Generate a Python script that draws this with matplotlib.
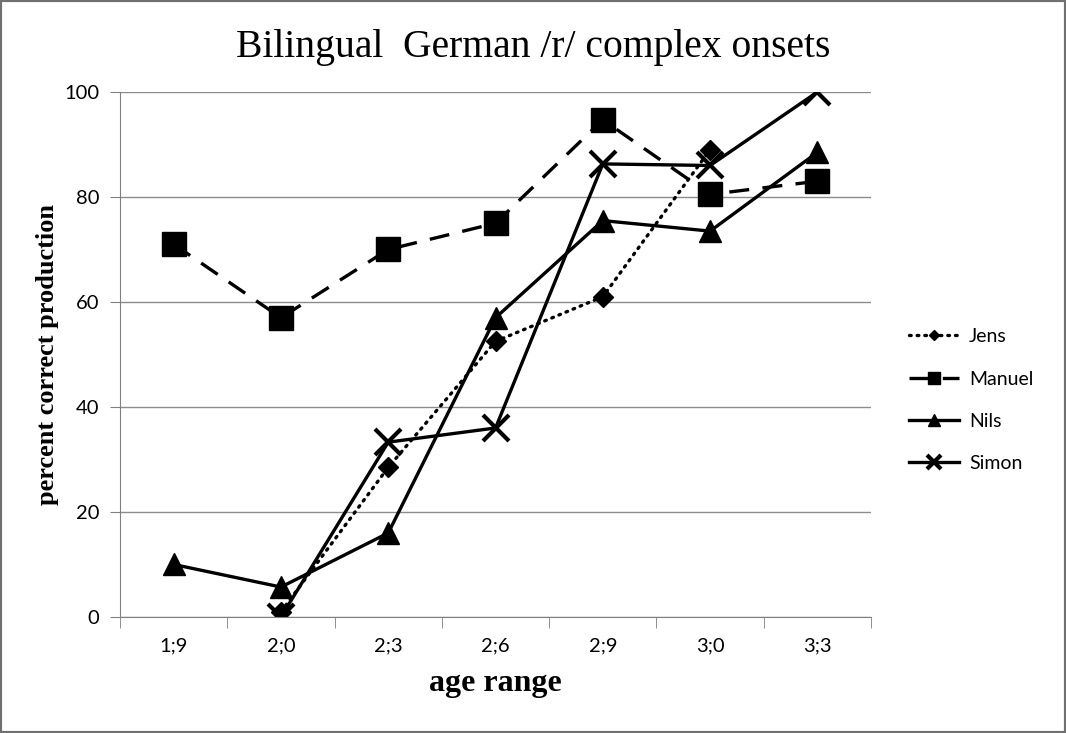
import numpy as np
import matplotlib.pyplot as plt
from matplotlib.patches import Rectangle

# age categories and percent correct per child (nan = no data)
ages = ['1;9', '2;0', '2;3', '2;6', '2;9', '3;0', '3;3']
jens = [np.nan, 1, 28.5, 52.5, 61, 89, np.nan]
manuel = [71, 57, 70, 75, 94.7, 80.5, 83]
nils = [10, 5.7, 16, 57, 75.5, 73.5, 88.5]
simon = [np.nan, 0, 33.3, 36, 86.3, 86, 100]

serif = ['Liberation Serif', 'DejaVu Serif']
sans = ['Lato', 'DejaVu Sans']

fig = plt.figure(figsize=(10.66, 7.33), dpi=100)
ax = fig.add_axes([0.1126, 0.1583, 0.7045, 0.7162])

x = np.arange(len(ages))
lw = 2.4
ax.plot(x, jens, color='black', lw=lw, linestyle=(0, (0.5, 1.8)), dash_capstyle='round',
        marker='D', markersize=10, label='Jens')
ax.plot(x, manuel, color='black', lw=lw, linestyle=(0, (6, 4)),
        marker='s', markersize=17, label='Manuel')
ax.plot(x, nils, color='black', lw=lw, linestyle='-',
        marker='^', markersize=16, label='Nils')
ax.plot(x, simon, color='black', lw=lw, linestyle='-',
        marker='x', markersize=19, markeredgewidth=3, label='Simon')

ax.set_xlim(-0.5, len(ages) - 0.5)
ax.set_ylim(0, 100)
ax.set_yticks(np.arange(0, 101, 20))
ax.set_xticks(x)
ax.set_xticklabels(ages)
ax.set_xticks(np.arange(-0.5, len(ages), 1), minor=True)
ax.tick_params(axis='x', which='major', length=0, pad=15)
ax.tick_params(axis='x', which='minor', length=8, color='#808080', direction='out')
ax.tick_params(axis='y', length=7, color='#808080', direction='out', pad=8)
for lab in ax.get_xticklabels() + ax.get_yticklabels():
    lab.set_family(sans)
    lab.set_fontsize(14.5)
ax.yaxis.grid(True, color='#8c8c8c', lw=1)
ax.set_axisbelow(True)
for s in ['top', 'right']:
    ax.spines[s].set_visible(False)
for s in ['left', 'bottom']:
    ax.spines[s].set_color('#808080')

ax.set_xlabel('age range', family=serif, fontweight='bold', fontsize=23, labelpad=10)
ax.set_ylabel('percent correct production', family=serif, fontweight='bold',
              fontsize=19, labelpad=4)
fig.text(0.5, 0.935, 'Bilingual  German /r/ complex onsets', family=serif,
         fontsize=28.5, ha='center', va='center')

leg = ax.legend(loc='center left', bbox_to_anchor=(0.836, 0.454), bbox_transform=fig.transFigure,
                frameon=False, handlelength=2.6, labelspacing=1.3, markerscale=0.55,
                prop={'family': sans, 'size': 14}, handletextpad=0.5)

fig.patches.append(Rectangle((0, 0), 1, 1, transform=fig.transFigure, fill=False,
                             edgecolor='#707070', lw=3))
fig.savefig('out.png', dpi=100)
